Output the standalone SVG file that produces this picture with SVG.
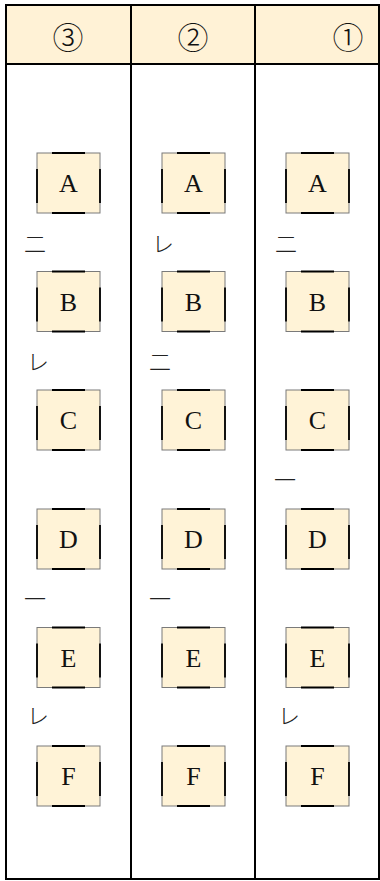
<svg xmlns="http://www.w3.org/2000/svg" width="380" height="881" viewBox="0 0 380 881">
<style>
.frame{fill:none;stroke:#000;stroke-width:2}
.hdr{fill:#fff2d6}
.hnum{font-family:"Noto Sans CJK JP","DejaVu Sans",sans-serif;font-size:31px;font-weight:300;fill:#111;text-anchor:middle;dominant-baseline:central}
.bx{fill:#fff3d7;stroke:#7a7a7a;stroke-width:1}
.bk{fill:none;stroke:#000;stroke-width:1.8}
.lbl{font-family:"Liberation Serif","DejaVu Serif",serif;font-size:26px;fill:#111;text-anchor:middle}
.mk{font-family:"Noto Sans CJK JP",sans-serif;font-size:22px;font-weight:300;fill:#222;dominant-baseline:central}
</style>
<defs>
<g id="boxshape">
<rect class="bx" x="0" y="0" width="63" height="60"/>
<path class="bk" d="M15 0H48M15 60H48M0 16V50M63 16V50"/>
</g>
</defs>
<rect class="hdr" x="6" y="5" width="373" height="59"/>
<g id="grid">
<rect class="frame" x="6" y="5" width="373" height="874"/>
<line class="frame" x1="6" y1="64" x2="379" y2="64"/>
<line class="frame" x1="131" y1="5" x2="131" y2="879"/>
<line class="frame" x1="255" y1="5" x2="255" y2="879"/>
</g>
<g id="headers">
<text class="hnum" x="68" y="35">③</text>
<text class="hnum" x="193" y="35">②</text>
<text class="hnum" x="348" y="35">①</text>
</g>
<g id="c3-A" transform="translate(37,153)"><use href="#boxshape"/><text class="lbl" x="31.5" y="39">A</text></g>
<g id="c3-B" transform="translate(37,271.5)"><use href="#boxshape"/><text class="lbl" x="31.5" y="39">B</text></g>
<g id="c3-C" transform="translate(37,390)"><use href="#boxshape"/><text class="lbl" x="31.5" y="39">C</text></g>
<g id="c3-D" transform="translate(37,509)"><use href="#boxshape"/><text class="lbl" x="31.5" y="39">D</text></g>
<g id="c3-E" transform="translate(37,627.5)"><use href="#boxshape"/><text class="lbl" x="31.5" y="39">E</text></g>
<g id="c3-F" transform="translate(37,746)"><use href="#boxshape"/><text class="lbl" x="31.5" y="39">F</text></g>
<g id="c2-A" transform="translate(162,153)"><use href="#boxshape"/><text class="lbl" x="31.5" y="39">A</text></g>
<g id="c2-B" transform="translate(162,271.5)"><use href="#boxshape"/><text class="lbl" x="31.5" y="39">B</text></g>
<g id="c2-C" transform="translate(162,390)"><use href="#boxshape"/><text class="lbl" x="31.5" y="39">C</text></g>
<g id="c2-D" transform="translate(162,509)"><use href="#boxshape"/><text class="lbl" x="31.5" y="39">D</text></g>
<g id="c2-E" transform="translate(162,627.5)"><use href="#boxshape"/><text class="lbl" x="31.5" y="39">E</text></g>
<g id="c2-F" transform="translate(162,746)"><use href="#boxshape"/><text class="lbl" x="31.5" y="39">F</text></g>
<g id="c1-A" transform="translate(286,153)"><use href="#boxshape"/><text class="lbl" x="31.5" y="39">A</text></g>
<g id="c1-B" transform="translate(286,271.5)"><use href="#boxshape"/><text class="lbl" x="31.5" y="39">B</text></g>
<g id="c1-C" transform="translate(286,390)"><use href="#boxshape"/><text class="lbl" x="31.5" y="39">C</text></g>
<g id="c1-D" transform="translate(286,509)"><use href="#boxshape"/><text class="lbl" x="31.5" y="39">D</text></g>
<g id="c1-E" transform="translate(286,627.5)"><use href="#boxshape"/><text class="lbl" x="31.5" y="39">E</text></g>
<g id="c1-F" transform="translate(286,746)"><use href="#boxshape"/><text class="lbl" x="31.5" y="39">F</text></g>
<g id="marks">
<text class="mk" x="24" y="242">二</text>
<text class="mk" x="27" y="360">レ</text>
<text class="mk" x="24" y="597">一</text>
<text class="mk" x="27" y="714">レ</text>
<text class="mk" x="152" y="242">レ</text>
<text class="mk" x="149" y="360">二</text>
<text class="mk" x="149" y="597">一</text>
<text class="mk" x="275" y="242">二</text>
<text class="mk" x="274" y="478">一</text>
<text class="mk" x="278" y="714">レ</text>
</g>
</svg>
